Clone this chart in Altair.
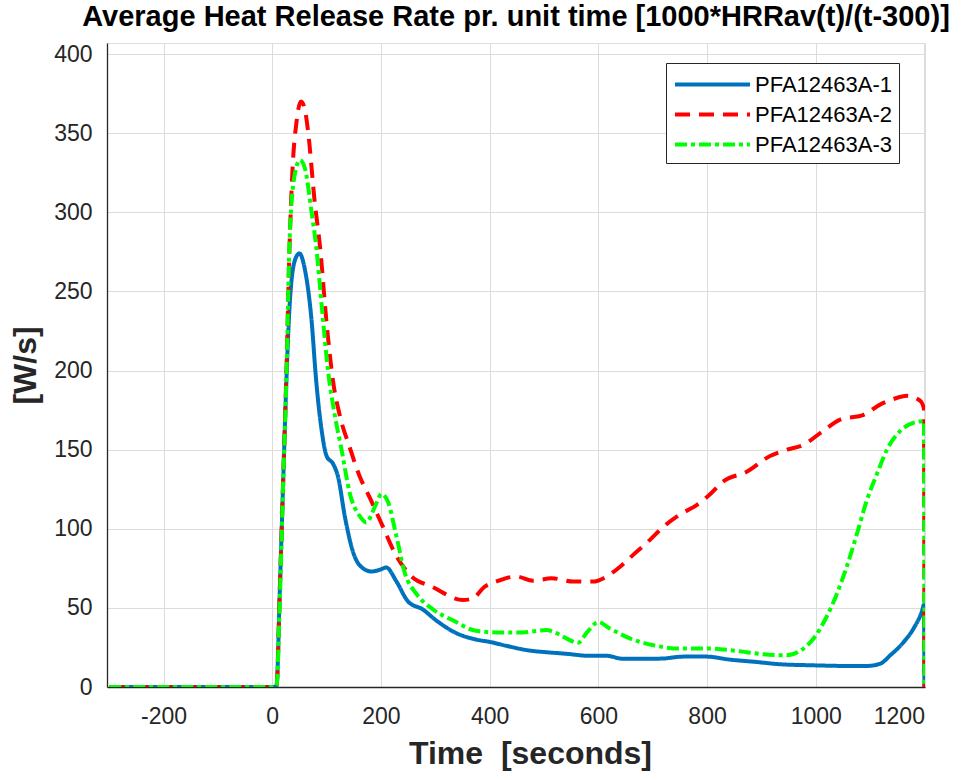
import altair as alt
import pandas as pd

series_names = ["PFA12463A-1", "PFA12463A-2", "PFA12463A-3"]
series_colors = ["#0072BD", "#FF0000", "#00FF00"]
series_dashes = [[1, 0], [15, 9], [12, 4, 4, 4]]

t1 = [-300, 0, 5, 8, 14, 20, 26, 32, 42, 50, 60, 72, 81, 91, 100, 112, 121, 134, 149, 167,
      183, 197, 210, 228, 250, 277, 302, 339, 375, 400, 431, 474, 504, 541, 584, 615, 646,
      689, 719, 756, 799, 842, 885, 934, 996, 1057, 1094, 1119, 1137, 1162, 1180, 1196, 1199, 1200]
v1 = [0, 0, 0, 1, 62, 128, 193, 241, 270, 274, 264, 233, 193, 162, 146, 141, 133, 107, 85, 75,
      73, 74, 75.5, 67, 54, 49, 42, 34, 30, 28.5, 26, 23, 22, 21, 19.7, 19.7, 17.8,
      17.8, 18, 19.2, 19.2, 17.3, 16, 14.4, 13.7, 13.3, 13.3, 14.8, 20, 28.5, 37, 48.6, 52, 0]

t2 = [-300, 0, 5, 8, 14, 20, 26, 32, 37, 45, 53, 60, 66, 78, 88, 100, 112, 124, 143, 161,
      179, 204, 228, 253, 296, 351, 369, 391, 412, 449, 480, 514, 554, 590, 615, 640, 664,
      695, 719, 750, 781, 805, 830, 873, 916, 947, 977, 1014, 1045, 1088, 1119, 1143, 1168,
      1192, 1199, 1200]
v2 = [0, 0, 0, 1, 62, 130, 198, 280, 325, 358, 370, 365, 351, 307, 278, 230, 193, 172, 151, 133,
      120, 101, 83, 71, 63, 55, 56, 63.4, 66.6, 69.8, 67.2, 68.7, 66.6, 66.6, 69.8, 76, 83.5,
      93, 101, 109, 115, 121.6, 130, 136, 146, 150, 153, 162, 169, 172, 178.6, 182, 184,
      181, 176, 0]

t3 = [-300, 0, 5, 8, 14, 20, 26, 32, 42, 51, 60, 72, 81, 91, 103, 115, 127, 143, 161, 173,
      189, 201, 213, 228, 244, 265, 296, 333, 375, 412, 461, 504, 523, 541, 563, 578, 600,
      621, 658, 701, 750, 805, 855, 904, 947, 971, 996, 1020, 1039, 1057, 1076, 1094, 1113,
      1131, 1156, 1180, 1199, 1200]
v3 = [0, 0, 0, 1, 55, 128, 193, 283, 325, 333, 328, 301, 278, 241, 199, 172, 151, 122, 108, 104,
      114, 122, 117, 96, 72, 59, 49, 42, 35.5, 34.5, 34.5, 36, 34, 30.7, 28, 34, 41,
      37, 30.7, 26.4, 24.3, 24.3, 22.8, 20.7, 20, 22.8, 30.7, 44.4, 59, 76, 97, 118, 135,
      150, 162, 167, 168, 0]

x_ticks = [-200, 0, 200, 400, 600, 800, 1000, 1200]
y_ticks = [0, 50, 100, 150, 200, 250, 300, 350, 400]

rows = []
for name, ts, vs in zip(series_names, [t1, t2, t3], [v1, v2, v3]):
    for i, (t, v) in enumerate(zip(ts, vs)):
        rows.append({"series": name, "t": t, "v": v, "idx": i})
df = pd.DataFrame(rows)

FONT = "Liberation Sans"

legend = alt.Legend(
    title=None, orient="none", legendX=559, legendY=20,
    symbolType="M-1,0H5", symbolSize=625, symbolStrokeWidth=4,
    labelFontSize=22, labelFont=FONT, labelColor="black", labelOffset=53,
    fillColor="white", strokeColor="#262626", padding=7, rowPadding=4,
    cornerRadius=0,
)

chart = alt.Chart(df).mark_line(strokeWidth=4, clip=True, interpolate="monotone").encode(
    x=alt.X("t:Q", scale=alt.Scale(domain=[-304, 1201], nice=False, zero=False),
            axis=alt.Axis(values=x_ticks, title="Time \u00a0[seconds]", ticks=False,
                          labelExpr="'' + datum.value",
                          labelPadding=18, labelFontSize=23, labelFont=FONT, labelColor="#262626",
                          titleFont=FONT, titleFontSize=32, titleFontWeight="bold",
                          titleColor="#262626", titleX=423, titleY=76,
                          titleBaseline="alphabetic",
                          gridColor="#dcdcdc", domainColor="#262626", domainWidth=1.3)),
    y=alt.Y("v:Q", scale=alt.Scale(domain=[0, 407], nice=False),
            axis=alt.Axis(values=y_ticks, title="[W/s]", ticks=False,
                          labelExpr="'' + datum.value",
                          labelPadding=15, labelFontSize=23, labelFont=FONT, labelColor="#262626",
                          titleFont=FONT, titleFontSize=32, titleFontWeight="bold",
                          titleColor="#262626", titleX=-65, titleY=322, titleAngle=270,
                          titleBaseline="bottom",
                          gridColor="#dcdcdc", domainColor="#262626", domainWidth=1.3)),
    color=alt.Color("series:N", scale=alt.Scale(domain=series_names, range=series_colors),
                    legend=legend),
    strokeDash=alt.StrokeDash("series:N", scale=alt.Scale(domain=series_names, range=series_dashes),
                              legend=legend),
    order="idx:Q",
).properties(
    width=818, height=644,
    autosize=alt.AutoSizeParams(type="none"),
    padding={"left": 107, "top": 43, "right": 44, "bottom": 93},
    title=alt.TitleParams(
        "Average Heat Release Rate pr. unit time [1000*HRRav(t)/(t-300)]",
        font=FONT, fontSize=29, fontWeight="bold", color="black",
        anchor="middle", frame="group", offset=16, dy=28, baseline="alphabetic"),
).configure_view(stroke="#262626", strokeWidth=1.3).configure(background="white")

chart.save("out.html", embed_options={"renderer": "svg", "actions": False})
